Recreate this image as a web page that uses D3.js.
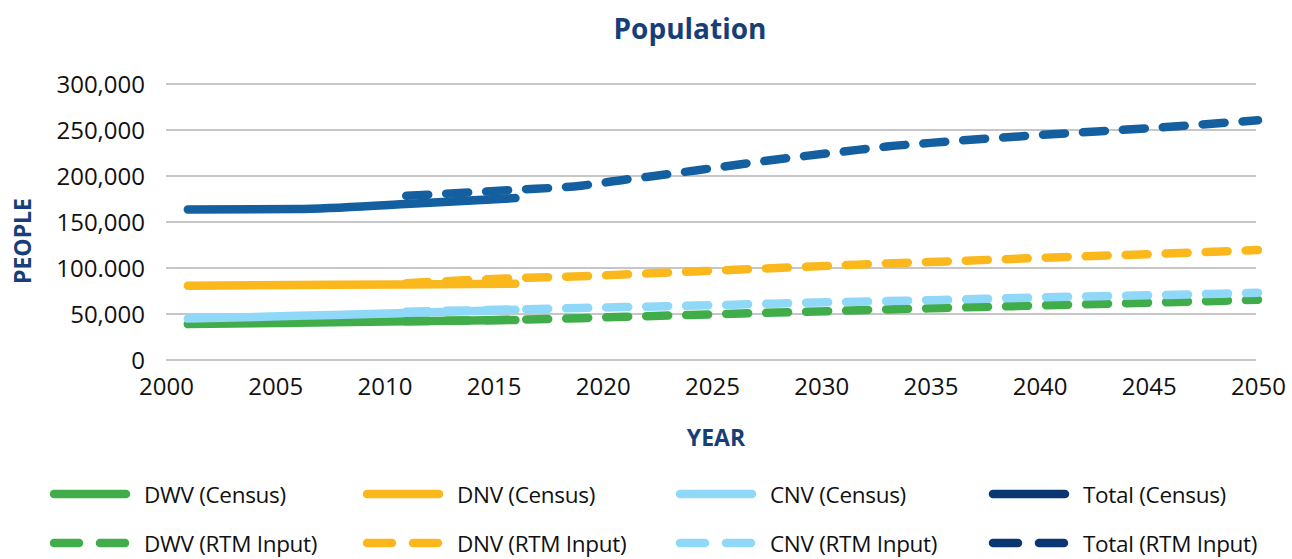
<!DOCTYPE html>
<html>
<head>
<meta charset="utf-8">
<script src="https://cdn.jsdelivr.net/npm/d3@7"></script>
<style>
    body { margin: 0; background: #fff; }
    text { font-family: "Open Sans", "Noto Sans", sans-serif; }
</style>
</head>
<body>
<script>
const WIDTH = 1292;
const HEIGHT = 559;

const leftPadding = 166;
const rightPadding = 34;
const topPadding = 84;
const botPadding = 199;

// census counts
const censusYears = [2001, 2006, 2011, 2016];
const dwvCensus = [39000, 40500, 42000, 43500];
const dnvCensus = [80800, 81500, 82200, 82800];
const cnvCensus = [45000, 48000, 51000, 54500];
const totalCensus = [163500, 164000, 169500, 176000];

// RTM input forecast
const rtmYears = [2011, 2016, 2019, 2021, 2023, 2025, 2027, 2029, 2031, 2033, 2035, 2040, 2045, 2050];
const dwvRtm = [42000, 43800, 45500, 47000, 48300, 49600, 51000, 52200, 53600, 55000, 56200, 59300, 62300, 65500];
const dnvRtm = [83500, 89000, 91000, 93000, 95000, 97000, 99000, 101000, 103000, 105000, 106500, 111000, 115000, 119500];
const cnvRtm = [52500, 55000, 56500, 57500, 58500, 59500, 60700, 62000, 63000, 64000, 65000, 68000, 70300, 73000];
const totalRtm = [178500, 185000, 189500, 196000, 202000, 208500, 215000, 221000, 226500, 232000, 236000, 244500, 252000, 260500];

const yTicks = [0, 50000, 100000, 150000, 200000, 250000, 300000];
const yTickLabels = ["0", "50,000", "100.000", "150,000", "200,000", "250,000", "300,000"];
const xTicks = [2000, 2005, 2010, 2015, 2020, 2025, 2030, 2035, 2040, 2045, 2050];

const colors = {
    dwv: "#40ad4a",
    dnv: "#fbb81c",
    cnv: "#8fd8f7",
    total: "#135f9f"
};
const totalLegendColor = "#0a3772";
const titleColor = "#173e78";

const series = [
    {name: "DWV (Census)", years: censusYears, values: dwvCensus, color: colors.dwv, dashed: false},
    {name: "DNV (Census)", years: censusYears, values: dnvCensus, color: colors.dnv, dashed: false},
    {name: "CNV (Census)", years: censusYears, values: cnvCensus, color: colors.cnv, dashed: false},
    {name: "Total (Census)", years: censusYears, values: totalCensus, color: colors.total, dashed: false},
    {name: "DWV (RTM Input)", years: rtmYears, values: dwvRtm, color: colors.dwv, dashed: true},
    {name: "DNV (RTM Input)", years: rtmYears, values: dnvRtm, color: colors.dnv, dashed: true},
    {name: "CNV (RTM Input)", years: rtmYears, values: cnvRtm, color: colors.cnv, dashed: true},
    {name: "Total (RTM Input)", years: rtmYears, values: totalRtm, color: colors.total, dashed: true}
];

const svg = d3.select("body").append("svg")
    .attr("width", WIDTH)
    .attr("height", HEIGHT);

const xScale = d3.scaleLinear()
    .domain([2000, 2050])
    .range([leftPadding, WIDTH - rightPadding]);

const yScale = d3.scaleLinear()
    .domain([0, 300000])
    .range([HEIGHT - botPadding, topPadding]);

// gridlines
svg.append("g")
    .selectAll("line")
    .data(yTicks)
    .join("line")
    .attr("x1", xScale(2000))
    .attr("x2", xScale(2050) - 2)
    .attr("y1", d => yScale(d))
    .attr("y2", d => yScale(d))
    .attr("stroke", "#b3b3b5")
    .attr("stroke-width", 1.5);

const yAxis = d3.axisLeft(yScale)
    .tickValues(yTicks)
    .tickSize(0)
    .tickPadding(21)
    .tickFormat((d, i) => yTickLabels[i]);

svg.append("g").attr("id", "y-axis")
    .attr("transform", "translate(" + leftPadding + ",0)")
    .call(yAxis)
    .call(g => g.select(".domain").remove())
    .selectAll("text")
    .attr("font-size", 24)
    .attr("fill", "#111")
    .attr("dy", "0.36em");

const xAxis = d3.axisBottom(xScale)
    .tickValues(xTicks)
    .tickSize(0)
    .tickPadding(18)
    .tickFormat(d => "" + d);

svg.append("g").attr("id", "x-axis")
    .attr("transform", "translate(0," + (HEIGHT - botPadding) + ")")
    .call(xAxis)
    .call(g => g.select(".domain").remove())
    .selectAll("text")
    .attr("font-size", 24)
    .attr("fill", "#111");

const line = d3.line()
    .x(d => xScale(d[0]))
    .y(d => yScale(d[1]))
    .curve(d3.curveMonotoneX);

svg.append("g")
    .selectAll("path")
    .data(series)
    .join("path")
    .attr("d", s => line(s.years.map((y, i) => [y, s.values[i]])))
    .attr("fill", "none")
    .attr("stroke", s => s.color)
    .attr("stroke-width", 8.5)
    .attr("stroke-linecap", "round")
    .attr("stroke-linejoin", "round")
    .attr("stroke-dasharray", s => s.dashed ? "22 18" : null);

// titles
svg.append("text")
    .attr("x", 690)
    .attr("y", 39)
    .attr("text-anchor", "middle")
    .attr("font-size", 28)
    .attr("font-weight", "bold")
    .attr("fill", titleColor)
    .text("Population");

svg.append("text")
    .attr("transform", "translate(31,241) rotate(-90)")
    .attr("text-anchor", "middle")
    .attr("font-size", 23)
    .attr("font-weight", "bold")
    .attr("fill", titleColor)
    .text("PEOPLE");

svg.append("text")
    .attr("x", 716)
    .attr("y", 446)
    .attr("text-anchor", "middle")
    .attr("font-size", 23)
    .attr("font-weight", "bold")
    .attr("fill", titleColor)
    .text("YEAR");

// legend: 4 columns, census row then RTM row
const legendCols = [50, 363, 676, 989];
const legendRows = [494, 543];

const legend = svg.append("g")
    .selectAll("g")
    .data(series)
    .join("g")
    .attr("transform", (s, i) => "translate(" + legendCols[i % 4] + "," + legendRows[Math.floor(i / 4)] + ")");

legend.append("line")
    .attr("x1", 4)
    .attr("x2", 76)
    .attr("stroke", s => s.name.startsWith("Total") ? totalLegendColor : s.color)
    .attr("stroke-width", 8.5)
    .attr("stroke-linecap", "round")
    .attr("stroke-dasharray", s => s.dashed ? "25 21" : null);

legend.append("text")
    .attr("x", 94)
    .attr("y", 8.5)
    .attr("font-size", 22.5)
    .attr("letter-spacing", -0.3)
    .attr("fill", "#111")
    .text(s => s.name);
</script>
</body>
</html>
